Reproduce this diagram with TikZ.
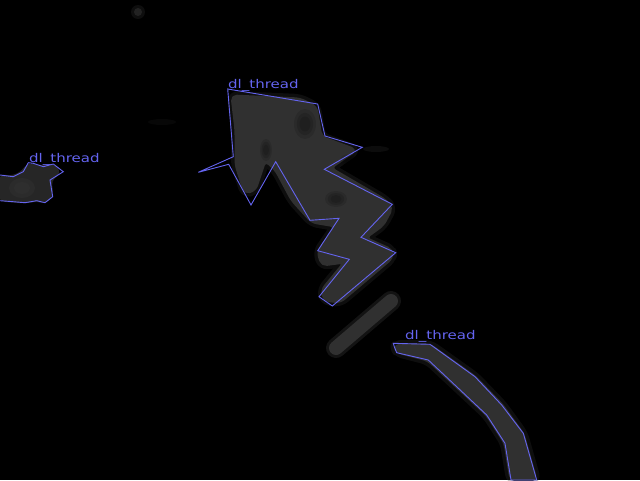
\documentclass[tikz,border=0pt]{standalone}
\usepackage{fontspec}
\usepackage{graphicx}
\setmainfont{DejaVu Sans}
\definecolor{outl}{RGB}{100,100,240}
\definecolor{blobc}{RGB}{48,48,48}
\tikzset{
  lbl/.style={anchor=base west, inner sep=0pt, text=outl, font=\fontsize{12}{12}\selectfont},
  outline/.style={draw=outl, line width=0.9pt, line join=miter},
  blob/.style={fill=blobc, draw=blobc, line width=3pt, line join=round, rounded corners=5pt},
  halo/.style={draw=blobc, opacity=0.3, line width=10pt, line join=round, rounded corners=6pt},
  dark/.style={fill=black, opacity=0.12},
}
\newcommand{\softdark}[3]{%
  \fill[dark] #1 ellipse ({#2} and {#3});
  \fill[dark] #1 ellipse ({0.75*#2} and {0.75*#3});
  \fill[dark] #1 ellipse ({0.5*#2} and {0.5*#3});}
\begin{document}
\begin{tikzpicture}[x=1pt,y=-1pt]
\fill[black] (0,0) rectangle (640,480);
\useasboundingbox (0,0) rectangle (640,480);

% faint spots
\fill[blobc, opacity=0.6] (138,12) circle (4);
\fill[blobc, opacity=0.3] (138,12) circle (7);
\fill[blobc, opacity=0.15] (162,122) ellipse (14 and 3);
\fill[blobc, opacity=0.25] (376,149) ellipse (13 and 3);

% main blob
\def\mainblob{(232,96) -- (300,99) -- (316,107) -- (321,137) -- (356,150) -- (330,168) -- (385,200) -- (392,208) -- (383,225) -- (365,238) -- (392,250) -- (392,258) -- (340,302) -- (324,300) -- (322,290) -- (345,262) -- (322,265) -- (318,252) -- (336,226) -- (312,222) -- (292,200) -- (276,170) -- (265,160) -- (255,190) -- (245,193) -- (236,165) -- (236,130) -- cycle}
\path[halo] \mainblob;
\path[blob] \mainblob;
\softdark{(305,124)}{11}{15}
\softdark{(266,150)}{6}{11}
\softdark{(336,199)}{11}{8}
\softdark{(350,160)}{10}{6}

% capsule
\draw[blobc, opacity=0.4, line width=20pt, line cap=round] (391,301) -- (336,348);
\draw[blobc, line width=14pt, line cap=round] (391,301) -- (336,348);

% right blob
\def\rightblob{(395,345) -- (430,345) -- (475,377) -- (502,405) -- (523,434) -- (536,480) -- (511,480) -- (505,443) -- (487,415) -- (457,387) -- (428,360) -- (397,352) -- cycle}
\path[halo] \rightblob;
\path[blob] \rightblob;

% left blob
\def\leftblob{(0,176) -- (13,177) -- (23,172) -- (28,164) -- (43,167) -- (53,165) -- (60,172) -- (50,180) -- (52,196) -- (45,202) -- (37,200) -- (25,202) -- (13,201) -- (0,200) -- cycle}
\path[blob, fill=blobc!80!black, draw=blobc!80!black] \leftblob;
\fill[blobc, opacity=0.5] (22,188) ellipse (13 and 10);
\fill[blobc, opacity=0.6] (22,188) ellipse (8 and 6);

% outlines
\draw[outline] (227.7,89) -- (317.7,104) -- (325,136) -- (362.3,147.3) -- (324.3,169.3) -- (392.3,204.3) -- (361,237.3) -- (395.7,252.7) -- (332.3,306) -- (319,296.7) -- (349.3,259.3) -- (317.7,250.7) -- (339,218.3) -- (310,220.3) -- (275.7,161.7) -- (251,205) -- (228.7,164.3) -- (198.3,172.3) -- (233.3,156.7) -- cycle;
\draw[outline] (0,175) -- (13.3,176.7) -- (23.3,171.7) -- (28.3,162.7) -- (33.3,163.3) -- (43.3,166.7) -- (53.3,164) -- (63.3,171.7) -- (50,180) -- (52.7,196.7) -- (45,202.7) -- (36.7,200.7) -- (25,202.7) -- (13.3,201.7) -- (0,200.7);
\draw[outline] (393.3,343.3) -- (430,344.3) -- (475,376.7) -- (501.7,405) -- (523.3,433.3) -- (536.7,480) -- (511,480) -- (505,443.3) -- (486.7,415) -- (456.7,386.7) -- (428.3,360) -- (396.7,352.7) -- (394.3,346.7) -- cycle;

% labels
\node[lbl] (l1) at (228,88) {\scalebox{1.25}[1]{dl\_thread}};
\node[lbl] (l2) at (29,162) {\scalebox{1.25}[1]{dl\_thread}};
\node[lbl] (l3) at (405,339) {\scalebox{1.25}[1]{dl\_thread}};
\end{tikzpicture}
\end{document}
